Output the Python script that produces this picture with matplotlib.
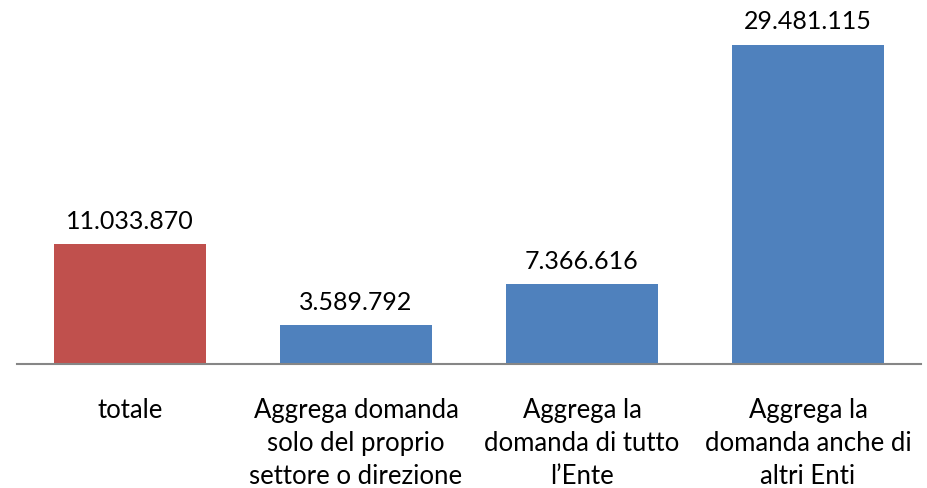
import matplotlib
matplotlib.use("Agg")
import matplotlib.pyplot as plt

labels = ["totale",
          "Aggrega domanda\nsolo del proprio\nsettore o direzione",
          "Aggrega la\ndomanda di tutto\nl\u2019Ente",
          "Aggrega la\ndomanda anche di\naltri Enti"]
values = [11033870, 3589792, 7366616, 29481115]
colors = ["#C0504D", "#4F81BD", "#4F81BD", "#4F81BD"]

plt.rcParams['font.family'] = ['Lato', 'DejaVu Sans']

fig = plt.figure(figsize=(9.27, 4.89), dpi=100)
ax = fig.add_axes([17 / 927, 124 / 489, 904 / 927, 365 / 489])

x = range(len(values))
bars = ax.bar(x, values, width=0.67, color=colors, zorder=2)

for b, v in zip(bars, values):
    txt = f"{v:,}".replace(",", ".")
    ax.annotate(txt, (b.get_x() + b.get_width() / 2, v),
                xytext=(0, 9), textcoords="offset points",
                ha="center", va="bottom", fontsize=18, color="#000000")

ax.set_xlim(-0.5, 3.5)
ax.set_ylim(0, 33.7e6)
ax.set_xticks(list(x))
ax.set_xticklabels(labels, fontsize=18.5, linespacing=1.38)
ax.tick_params(axis="x", length=0, pad=24)
ax.set_yticks([])
for s in ["top", "right", "left"]:
    ax.spines[s].set_visible(False)
ax.spines["bottom"].set_color("#868686")
ax.spines["bottom"].set_linewidth(1.5)

fig.savefig("out.png", dpi=100)
